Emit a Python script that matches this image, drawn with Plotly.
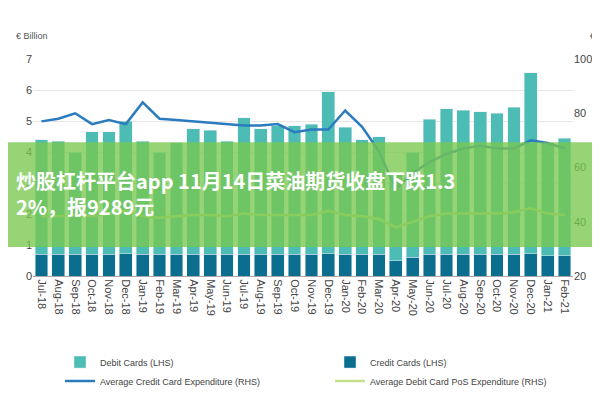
import plotly.graph_objects as go

months = ["Jul-18", "Aug-18", "Sep-18", "Oct-18", "Nov-18", "Dec-18", "Jan-19", "Feb-19",
          "Mar-19", "Apr-19", "May-19", "Jun-19", "Jul-19", "Aug-19", "Sep-19", "Oct-19",
          "Nov-19", "Dec-19", "Jan-20", "Feb-20", "Mar-20", "Apr-20", "May-20", "Jun-20",
          "Jul-20", "Aug-20", "Sep-20", "Oct-20", "Nov-20", "Dec-20", "Jan-21", "Feb-21"]
credit_cards = [0.7, 0.7, 0.7, 0.7, 0.7, 0.72, 0.7, 0.7, 0.7, 0.7, 0.7, 0.7, 0.7, 0.7, 0.7, 0.7,
                0.7, 0.72, 0.7, 0.7, 0.7, 0.5, 0.6, 0.7, 0.7, 0.7, 0.7, 0.7, 0.7, 0.72, 0.65, 0.65]
total_cards = [4.4, 4.35, 4.0, 4.65, 4.65, 5.0, 4.35, 4.0, 4.3, 4.75, 4.7, 4.35, 5.1, 4.75, 4.85, 4.85,
               4.9, 5.95, 4.8, 4.4, 4.5, 3.3, 4.0, 5.05, 5.4, 5.35, 5.3, 5.25, 5.45, 6.55, 4.3, 4.45]
debit_cards = [round(t - c, 2) for t, c in zip(total_cards, credit_cards)]
avg_credit = [77, 78, 80, 76, 77.5, 76, 84, 78, 77.5, 77, 76.5, 76, 75.5, 75.5, 76, 73,
              74, 74, 81, 75, 66, 52, 58, 62, 65, 67, 68, 67, 67, 70, 69, 67]
avg_debit = [42, 42, 42.5, 42, 43, 44, 42, 41.5, 42, 42.5, 42.5, 42, 43, 42.5, 42.5, 42.5,
             42.5, 44, 42.5, 42, 41, 38, 40, 42, 43, 43, 43, 43, 43.5, 45, 43, 42.5]

fig = go.Figure()
fig.add_trace(go.Bar(x=months, y=credit_cards, name="Credit Cards (LHS)", marker_color="#0b6e8e",
                     legendrank=3))
fig.add_trace(go.Bar(x=months, y=debit_cards, name="Debit Cards (LHS)", marker_color="#4cbcb4",
                     legendrank=4))
fig.add_trace(go.Scatter(x=months, y=avg_credit, name="Average Credit Card Expenditure (RHS)",
                         yaxis="y2", mode="lines", line=dict(color="#2b7bbf", width=2.5), legendrank=2))
fig.add_trace(go.Scatter(x=months, y=avg_debit, name="Average Debit Card PoS Expenditure (RHS)",
                         yaxis="y2", mode="lines", line=dict(color="#c6e08a", width=2.5), legendrank=1))

fig.add_shape(type="rect", xref="paper", yref="paper", x0=-0.06, x1=1.07, y0=0.134, y1=0.616,
              fillcolor="rgba(120,200,80,0.78)", line_width=0, layer="above")
fig.add_annotation(xref="paper", yref="paper", x=-0.035, y=0.38, xanchor="left", yanchor="middle",
                   text="<b>炒股杠杆平台app 11月14日菜油期货收盘下跌1.3<br>2%，报9289元</b>", align="left",
                   showarrow=False, font=dict(family="Noto Sans CJK SC", size=20, color="white"))
fig.add_annotation(xref="paper", yref="paper", x=-0.035, y=1.14, xanchor="left", text="€ Billion",
                   showarrow=False, font=dict(size=9, color="#555"))
fig.add_annotation(xref="paper", yref="paper", x=1.045, y=1.14, xanchor="right", text="€",
                   showarrow=False, font=dict(size=9, color="#555"))

fig.update_layout(
    width=600, height=400, barmode="stack", bargap=0.25,
    plot_bgcolor="white", paper_bgcolor="white",
    margin=dict(l=25, r=35, t=51, b=117),
    font=dict(family="Liberation Sans Narrow, Arial Narrow, sans-serif", size=11, color="#444"),
    xaxis=dict(tickangle=90, showgrid=False, linecolor="#aaa"),
    yaxis=dict(range=[0, 7], dtick=1, gridcolor="#e6e6e6", zeroline=False),
    yaxis2=dict(range=[20, 100], dtick=20, overlaying="y", side="right", showgrid=False),
    legend=dict(orientation="h", x=0.05, y=-0.33, font=dict(size=9), entrywidth=0.5, entrywidthmode="fraction"),
)
fig.write_html("out.html")
